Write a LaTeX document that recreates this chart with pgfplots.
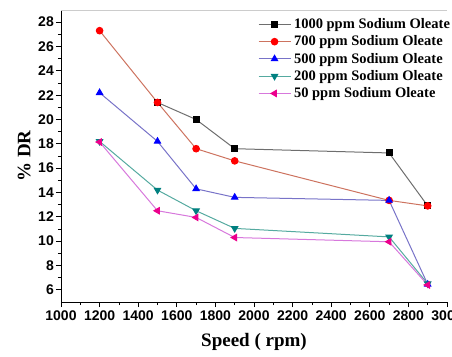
\documentclass[border=0pt]{standalone}
\usepackage{fontspec}
\setmainfont{Liberation Serif}
\setsansfont{Liberation Sans}
\usepackage{pgfplots}
\pgfplotsset{compat=1.18}
\definecolor{lblack}{RGB}{110,110,110}
\definecolor{lred}{RGB}{205,115,95}
\definecolor{lblue}{RGB}{120,115,200}
\definecolor{lteal}{RGB}{85,170,160}
\definecolor{lmag}{RGB}{215,120,220}
\definecolor{mteal}{RGB}{0,128,128}
\begin{document}
\begin{tikzpicture}
\begin{axis}[
  scale only axis, width=386pt, height=292pt,
  xmin=1000, xmax=3000, ymin=5, ymax=29,
  axis x line*=bottom, axis y line*=left,
  axis line style={line width=1pt},
  xtick={1000,1200,...,3000}, ytick={6,8,...,28},
  minor x tick num=1, minor y tick num=1,
  tick align=outside, tick style={black, line width=0.8pt},
  major tick length=5pt, minor tick length=3pt,
  /pgf/number format/assume math mode=true,
  /pgf/number format/1000 sep={},
  tick label style={font=\sffamily\bfseries\fontsize{14}{16}\selectfont},
  xticklabel style={inner xsep=0pt},
  yticklabel style={inner xsep=2pt},
  xlabel={\bfseries Speed ( rpm)}, ylabel={\bfseries \% DR},
  label style={font=\fontsize{19}{21}\selectfont\bfseries},
  xlabel style={yshift=-6pt},
  ylabel style={yshift=2pt},
  legend style={at={(0.51,0.978)}, anchor=north west, draw=none, fill=none,
    font=\fontsize{14.5}{16}\selectfont\bfseries, row sep=1.7pt, inner sep=0pt,
    nodes={inner xsep=3pt}},
  legend cell align=left,
  legend image code/.code={\draw[mark repeat=2,mark phase=2,#1] plot coordinates {(0pt,0pt) (16pt,0pt) (32pt,0pt)};},
  every axis plot/.append style={line width=1pt},
]
\coordinate (ll) at (rel axis cs:0,0);
\coordinate (ur) at (rel axis cs:1,1);
\draw[gray!40, line width=0.8pt] (rel axis cs:0,1) -- (rel axis cs:1,1);
\addplot[lblack, mark=square*, mark size=3pt, mark options={black, fill=black}] coordinates {
 (1500,21.4) (1700,20.0) (1900,17.6) (2700,17.25) (2900,12.9)};
\addlegendentry{1000 ppm Sodium Oleate}
\addplot[lred, mark=*, mark size=3.3pt, mark options={red, fill=red}] coordinates {
 (1200,27.3) (1500,21.4) (1700,17.6) (1900,16.6) (2700,13.35) (2900,12.9)};
\addlegendentry{700 ppm Sodium Oleate}
\addplot[lblue, mark=triangle*, mark size=3.6pt, mark options={blue, fill=blue}] coordinates {
 (1200,22.2) (1500,18.2) (1700,14.3) (1900,13.6) (2700,13.35) (2900,6.45)};
\addlegendentry{500 ppm Sodium Oleate}
\addplot[lteal, mark=triangle*, mark size=3.6pt, mark options={mteal, fill=mteal, rotate=180}] coordinates {
 (1200,18.2) (1500,14.2) (1700,12.5) (1900,11.05) (2700,10.35) (2900,6.5)};
\addlegendentry{200 ppm Sodium Oleate}
\addplot[lmag, mark=triangle*, mark size=3.6pt, mark options={magenta, fill=magenta, rotate=90}] coordinates {
 (1200,18.15) (1500,12.5) (1700,11.95) (1900,10.3) (2700,9.95) (2900,6.4)};
\addlegendentry{50 ppm Sodium Oleate}
\end{axis}
\pgfresetboundingbox
\path[use as bounding box] ([xshift=-61pt,yshift=-54pt]ll) rectangle ([xshift=5pt,yshift=10pt]ur);
\end{tikzpicture}
\end{document}
